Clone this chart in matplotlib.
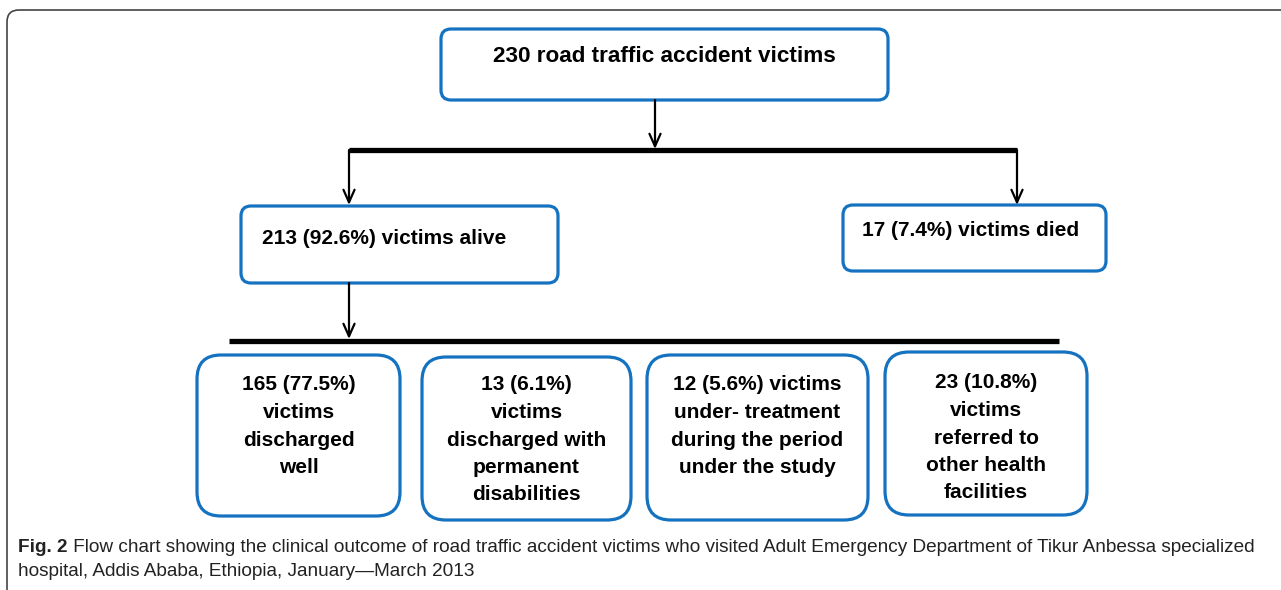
import matplotlib.pyplot as plt
from matplotlib.patches import FancyBboxPatch

# box texts
top_label = "230 road traffic accident victims"
mid_labels = ["213 (92.6%) victims alive", "17 (7.4%) victims died"]
bottom_labels = [
    "165 (77.5%)\nvictims\ndischarged\nwell",
    "13 (6.1%)\nvictims\ndischarged with\npermanent\ndisabilities",
    "12 (5.6%) victims\nunder- treatment\nduring the period\nunder the study",
    "23 (10.8%)\nvictims\nreferred to\nother health\nfacilities",
]
caption_bold = "Fig. 2"
caption_rest = (" Flow chart showing the clinical outcome of road traffic accident victims who visited "
                "Adult Emergency Department of Tikur Anbessa specialized")
caption_line2 = "hospital, Addis Ababa, Ethiopia, January\u2014March 2013"

BLUE = "#1572c0"
FONT = "Liberation Sans"

fig = plt.figure(figsize=(12.81, 5.90), dpi=100)
ax = fig.add_axes([0, 0, 1, 1])
ax.set_xlim(0, 1281)
ax.set_ylim(590, 0)
ax.axis("off")


def box(x0, y0, x1, y1, r):
    p = FancyBboxPatch((x0, y0), x1 - x0, y1 - y0,
                       boxstyle=f"round,pad=0,rounding_size={r}",
                       fc="white", ec=BLUE, lw=2.3, zorder=3)
    ax.add_patch(p)


def arrow(x, y0, y1):
    ax.annotate("", xy=(x, y1), xytext=(x, y0),
                arrowprops=dict(arrowstyle="->,head_length=0.9,head_width=0.4",
                                lw=1.6, color="black", shrinkA=0, shrinkB=0),
                zorder=4)


# outer frame
frame = FancyBboxPatch((7, 10), 1320, 640, boxstyle="round,pad=0,rounding_size=12",
                       fc="none", ec="#444444", lw=1.2, clip_on=True, zorder=1)
ax.add_patch(frame)

# top box
box(441, 29, 888, 100, 10)
ax.text(664, 56, top_label, ha="center", va="center", fontsize=16.2,
        fontweight="bold", family=FONT, zorder=5)

# split to alive / died
arrow(655, 100, 149)
ax.plot([349, 1017], [150, 150], color="black", lw=3.8, solid_capstyle="butt", zorder=4)
arrow(349, 150, 205)
arrow(1017, 150, 205)

box(241, 206, 558, 283, 10)
ax.text(262, 238, mid_labels[0], ha="left", va="center", fontsize=15,
        fontweight="bold", family=FONT, zorder=5)
box(843, 205, 1106, 271, 10)
ax.text(862, 230, mid_labels[1], ha="left", va="center", fontsize=15,
        fontweight="bold", family=FONT, zorder=5)

# alive -> outcomes
arrow(349, 283, 339)
ax.plot([229, 1059], [341, 341], color="black", lw=3.8, solid_capstyle="butt", zorder=4)

bottom_boxes = [(197, 355, 400, 516), (422, 357, 631, 520),
                (647, 355, 868, 520), (885, 352, 1087, 515)]
first_line_y = [385, 385, 385, 383]
line_step = 27.5
for (x0, y0, x1, y1), lab, fy in zip(bottom_boxes, bottom_labels, first_line_y):
    box(x0, y0, x1, y1, 24)
    cx = (x0 + x1) / 2
    for i, line in enumerate(lab.split("\n")):
        ax.text(cx, fy + i * line_step, line, ha="center", va="center", fontsize=15,
                fontweight="bold", family=FONT, zorder=5)

# caption
t = ax.text(18, 548, caption_bold, ha="left", va="center", fontsize=13.7,
            fontweight="bold", family=FONT, color="#222222")
fig.canvas.draw()
bb = t.get_window_extent(fig.canvas.get_renderer())
x_end = ax.transData.inverted().transform((bb.x1, bb.y0))[0]
ax.text(x_end, 548, caption_rest, ha="left", va="center", fontsize=13.7,
        family=FONT, color="#222222")
ax.text(18, 572, caption_line2, ha="left", va="center", fontsize=13.7,
        family=FONT, color="#222222")

fig.savefig("out.png", dpi=100)
